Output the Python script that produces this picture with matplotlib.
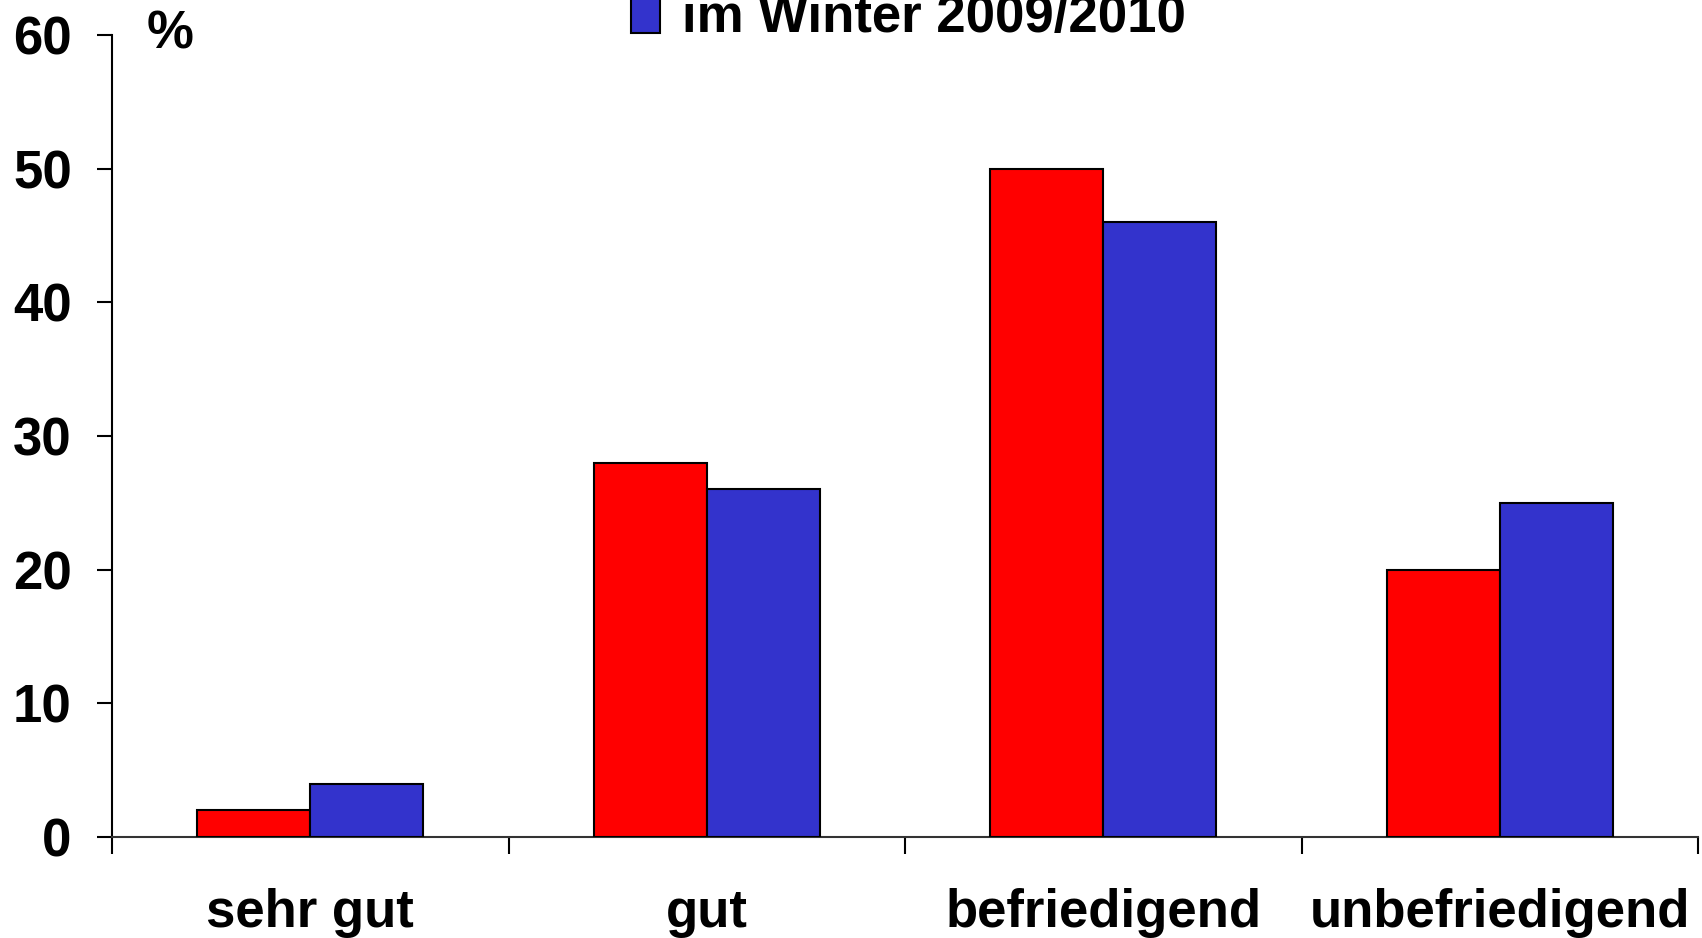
import matplotlib.pyplot as plt
from matplotlib.patches import Patch
import numpy as np

plt.rcParams['font.family'] = ['Liberation Sans', 'DejaVu Sans']
plt.rcParams['font.weight'] = 'bold'

# data
categories = ["sehr gut", "gut", "befriedigend", "unbefriedigend"]
series_labels = ["im Sommer 2009", "im Winter 2009/2010"]
red_values = [2, 28, 50, 20]
blue_values = [4, 26, 46, 25]
yticks = [0, 10, 20, 30, 40, 50, 60]

RED = "#FF0000"
BLUE = "#3333CC"

fig = plt.figure(figsize=(17.02, 9.38), dpi=100)
ax = fig.add_axes([0.0658, 0.1077, 0.932, 0.855])

x = np.arange(len(categories))
w = 0.285
ax.bar(x - w / 2, red_values, w, color=RED, edgecolor="black", linewidth=1.5, zorder=3)
ax.bar(x + w / 2, blue_values, w, color=BLUE, edgecolor="black", linewidth=1.5, zorder=3)

ax.set_xlim(-0.5, len(categories) - 0.5)
ax.set_ylim(0, 60)
ax.set_yticks(yticks)
ax.set_yticklabels([str(v) for v in yticks], fontsize=38, fontweight="bold")
ax.tick_params(axis="y", direction="out", length=11, width=1.5, pad=18)

# boundaries as major ticks, labels on minor ticks
ax.set_xticks(np.arange(len(categories) + 1) - 0.5)
ax.set_xticklabels([])
ax.tick_params(axis="x", which="major", direction="out", length=12, width=1.5)
ax.set_xticks(x, minor=True)
ax.set_xticklabels(categories, minor=True, fontsize=38, fontweight="bold")
ax.tick_params(axis="x", which="minor", length=0, pad=37)

ax.spines[["top", "right"]].set_visible(False)
ax.spines["left"].set_linewidth(1.5)
ax.spines["bottom"].set_linewidth(1.5)
ax.spines["bottom"].set_color("#333333")

ax.text(0.022, 1.0, "%", transform=ax.transAxes, fontsize=38, fontweight="bold",
        ha="left", va="center")

# legend: top entry lies above the figure edge, as in the source image
handles = [Patch(facecolor=RED, edgecolor="black", linewidth=1.5),
           Patch(facecolor=BLUE, edgecolor="black", linewidth=1.5)]
fig.legend(handles, series_labels, loc="lower left", bbox_to_anchor=(0.371, 0.954),
           frameon=False, prop={"size": 38, "weight": "bold"},
           handlelength=0.55, handleheight=0.75, handletextpad=0.4,
           labelspacing=0.3, borderaxespad=0, borderpad=0)

fig.savefig("out.png", dpi=100)
